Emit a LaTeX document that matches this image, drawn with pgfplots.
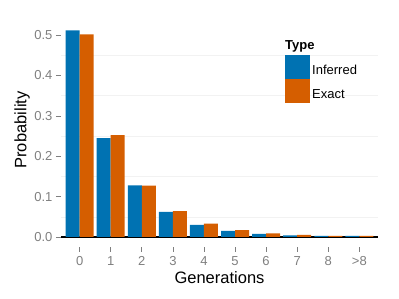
\documentclass[border=0pt]{standalone}
\usepackage{pgfplots}
\pgfplotsset{compat=1.18}
\usepackage{fontspec}
\setmainfont{Liberation Sans}
\definecolor{cblue}{HTML}{0072B2}
\definecolor{corange}{HTML}{D55E00}
\definecolor{tickgray}{HTML}{7F7F7F}
\begin{document}
\begin{tikzpicture}
\useasboundingbox (-61pt,-62pt) rectangle (338pt,237pt);
\begin{axis}[at={(0pt,0pt)}, anchor=south west, scale only axis,
  width=317pt, height=214pt,
  xmin=-0.6, xmax=9.6, ymin=0, ymax=0.53,
  axis x line*=bottom, axis y line*=left,
  x axis line style={black, line width=1.4pt},
  y axis line style={draw=none},
  xtick={0,...,9}, xticklabels={0,1,2,3,4,5,6,7,8,>8},
  ytick={0,0.1,0.2,0.3,0.4,0.5},
  minor ytick={0.05,0.15,0.25,0.35,0.45},
  yminorgrids, minor grid style={gray!10, line width=0.5pt},
  minor tick length=0pt,
  tick align=outside, major tick length=5pt,
  xtick style={tickgray, line width=0.7pt, yshift=-10pt},
  ytick style={tickgray, line width=0.7pt},
  tick label style={font=\fontsize{13}{13}\selectfont, text=tickgray},
  xticklabel style={yshift=-11pt},
  yticklabel style={/pgf/number format/fixed, /pgf/number format/fixed zerofill, /pgf/number format/precision=1},
  /pgf/number format/assume math mode=true,
  xlabel={Generations}, ylabel={Probability},
  every axis x label/.style={at={(axis description cs:0.5,0)}, anchor=north, yshift=-34pt, inner sep=0pt, font=\fontsize{16.5}{16.5}\selectfont},
  every axis y label/.style={at={([xshift=-31pt]axis description cs:0,0.5)}, rotate=90, anchor=south, inner sep=0pt, font=\fontsize{16.5}{16.5}\selectfont},
  legend image code/.code={\fill[#1] (0pt,-9pt) rectangle (25pt,15pt);},
  legend style={at={(rel axis cs:0.7066,0.85)}, anchor=north west, draw=none, fill=none,
    inner sep=0pt, row sep=0pt, font=\fontsize{13}{13}\selectfont,
    nodes={inner xsep=2pt, inner ysep=0pt}},
  legend cell align=left,
]
\addplot[ybar, bar width=0.45, bar shift=-0.225, fill=cblue, draw=none]
  coordinates {(0,0.512) (1,0.245) (2,0.128) (3,0.062) (4,0.030) (5,0.015) (6,0.008) (7,0.004) (8,0.003) (9,0.003)};
\addlegendentry{Inferred}
\addplot[ybar, bar width=0.45, bar shift=0.225, fill=corange, draw=none]
  coordinates {(0,0.502) (1,0.252) (2,0.127) (3,0.064) (4,0.033) (5,0.017) (6,0.009) (7,0.005) (8,0.003) (9,0.003)};
\addlegendentry{Exact}
\node[anchor=base west, inner sep=0pt, font=\bfseries\fontsize{13}{13}\selectfont] at (rel axis cs:0.7066,0.876) {Type};
\end{axis}
\end{tikzpicture}
\end{document}
